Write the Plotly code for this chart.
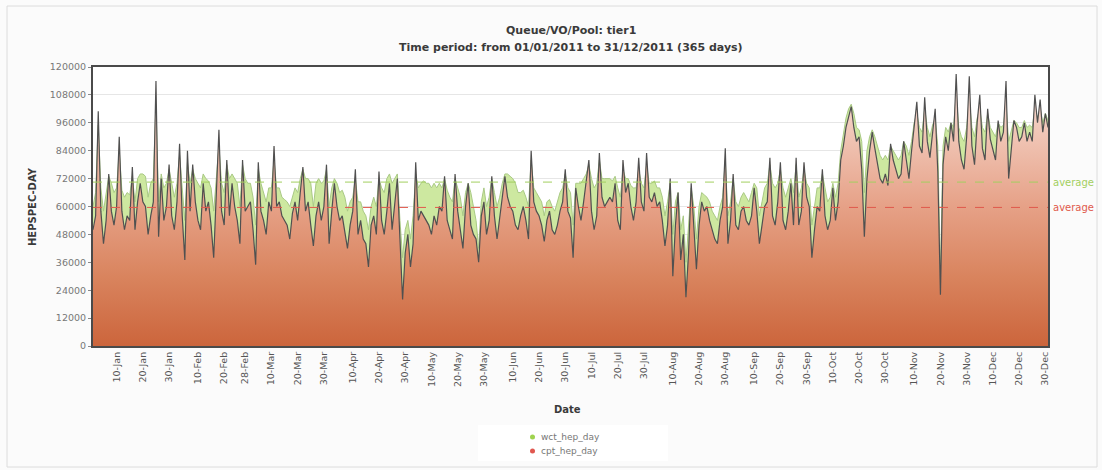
import pandas as pd
import plotly.graph_objects as go

# Daily accounting for 2011, HEPSPEC-day units
dates = pd.date_range("2011-01-01", "2011-12-31", freq="D")

# Wall-clock time normalised to HEPSPEC06 (one value per day)
wct_hep_day = [
    # Jan
    60000, 66000, 95000, 68000, 58000, 66000, 73000, 70000, 66000, 68000,
    84000, 67000, 64000, 66000, 65000, 73000, 62000, 72000, 74000, 74000,
    73000, 64000, 70000, 72000, 104000, 62000, 74000, 68000, 70000, 76000, 70000,
    # Feb
    64000, 70000, 82000, 68000, 54000, 79000, 70000, 76000, 72000, 70000,
    68000, 74000, 72000, 71000, 68000, 58000, 72000, 86000, 70000, 66000,
    78000, 72000, 74000, 72000, 70000, 60000, 78000, 72000,
    # Mar
    70000, 70000, 64000, 52000, 76000, 70000, 66000, 62000, 68000, 68000,
    80000, 68000, 68000, 64000, 63000, 62000, 60000, 64000, 68000, 66000,
    72000, 76000, 72000, 72000, 70000, 60000, 70000, 72000, 70000, 71000, 76000,
    # Apr
    60000, 68000, 72000, 70000, 66000, 67000, 64000, 58000, 62000, 64000,
    72000, 62000, 62000, 58000, 56000, 50000, 60000, 64000, 60000, 72000,
    68000, 66000, 72000, 74000, 70000, 72000, 74000, 54000, 38000, 50000,
    # May
    54000, 46000, 56000, 74000, 68000, 70000, 71000, 70000, 70000, 68000,
    70000, 68000, 70000, 68000, 72000, 67000, 64000, 62000, 72000, 68000,
    64000, 56000, 66000, 70000, 66000, 60000, 54000, 42000, 62000, 68000, 60000,
    # Jun
    64000, 72000, 66000, 60000, 64000, 70000, 74000, 74000, 73000, 72000,
    70000, 66000, 66000, 67000, 64000, 60000, 80000, 68000, 66000, 64000,
    62000, 56000, 62000, 63000, 60000, 58000, 62000, 66000, 68000, 74000,
    # Jul
    68000, 66000, 52000, 70000, 70000, 70000, 72000, 74000, 78000, 72000,
    68000, 70000, 80000, 72000, 72000, 72000, 72000, 71000, 73000, 68000,
    64000, 76000, 72000, 72000, 69000, 68000, 68000, 76000, 70000, 68000, 78000,
    # Aug
    70000, 70000, 71000, 68000, 68000, 64000, 56000, 62000, 70000, 48000,
    62000, 66000, 50000, 56000, 36000, 52000, 68000, 60000, 46000, 60000,
    66000, 65000, 64000, 62000, 58000, 56000, 54000, 60000, 64000, 80000, 56000,
    # Sep
    62000, 72000, 62000, 60000, 64000, 66000, 64000, 62000, 66000, 70000,
    68000, 56000, 62000, 68000, 70000, 78000, 70000, 68000, 70000, 76000,
    68000, 64000, 68000, 72000, 66000, 78000, 64000, 68000, 76000, 70000,
    # Oct
    68000, 52000, 60000, 68000, 68000, 74000, 68000, 62000, 64000, 70000,
    64000, 70000, 84000, 92000, 98000, 102000, 104000, 100000, 94000, 93000,
    88000, 66000, 84000, 90000, 93000, 90000, 86000, 82000, 80000, 82000, 80000,
    # Nov
    86000, 84000, 82000, 80000, 82000, 88000, 86000, 82000, 88000, 96000,
    100000, 94000, 92000, 102000, 94000, 90000, 95000, 98000, 86000, 30000,
    86000, 94000, 92000, 96000, 94000, 108000, 94000, 90000, 88000, 94000,
    # Dec
    106000, 94000, 90000, 98000, 102000, 94000, 92000, 100000, 94000, 92000,
    90000, 96000, 94000, 95000, 104000, 88000, 92000, 97000, 96000, 94000,
    94000, 97000, 94000, 95000, 94000, 102000, 98000, 102000, 96000, 100000, 97000,
]

# CPU time normalised to HEPSPEC06 (one value per day)
cpt_hep_day = [
    # Jan
    50000, 56000, 101000, 58000, 44000, 54000, 74000, 58000, 52000, 60000,
    90000, 58000, 50000, 56000, 54000, 77000, 50000, 62000, 70000, 62000,
    60000, 48000, 56000, 62000, 114000, 47000, 72000, 54000, 60000, 78000, 56000,
    # Feb
    50000, 62000, 87000, 56000, 37000, 84000, 58000, 78000, 62000, 54000,
    50000, 70000, 58000, 62000, 52000, 38000, 66000, 93000, 58000, 52000,
    80000, 56000, 70000, 60000, 54000, 44000, 80000, 58000,
    # Mar
    60000, 62000, 50000, 35000, 79000, 58000, 54000, 48000, 62000, 58000,
    86000, 60000, 62000, 56000, 54000, 52000, 46000, 57000, 62000, 54000,
    66000, 77000, 58000, 62000, 52000, 43000, 56000, 62000, 54000, 60000, 78000,
    # Apr
    44000, 58000, 70000, 60000, 54000, 56000, 48000, 42000, 52000, 58000,
    76000, 48000, 54000, 46000, 44000, 34000, 52000, 56000, 48000, 75000,
    54000, 48000, 58000, 70000, 50000, 62000, 72000, 46000, 20000, 40000,
    # May
    48000, 34000, 44000, 79000, 54000, 58000, 56000, 54000, 52000, 48000,
    56000, 52000, 60000, 58000, 73000, 54000, 50000, 46000, 74000, 58000,
    50000, 42000, 60000, 70000, 52000, 48000, 46000, 36000, 56000, 62000, 48000,
    # Jun
    54000, 73000, 56000, 46000, 54000, 64000, 73000, 64000, 60000, 58000,
    52000, 50000, 56000, 60000, 54000, 46000, 84000, 62000, 58000, 56000,
    52000, 45000, 54000, 58000, 50000, 48000, 52000, 58000, 62000, 76000,
    # Jul
    58000, 55000, 38000, 68000, 60000, 54000, 62000, 70000, 80000, 58000,
    50000, 56000, 83000, 64000, 60000, 62000, 64000, 62000, 70000, 54000,
    50000, 80000, 66000, 70000, 60000, 54000, 62000, 81000, 62000, 58000, 83000,
    # Aug
    64000, 62000, 66000, 60000, 62000, 54000, 43000, 52000, 72000, 30000,
    52000, 66000, 37000, 48000, 21000, 40000, 70000, 50000, 33000, 52000,
    62000, 58000, 60000, 54000, 50000, 46000, 44000, 54000, 60000, 85000, 44000,
    # Sep
    54000, 74000, 52000, 50000, 58000, 60000, 54000, 52000, 56000, 68000,
    58000, 44000, 52000, 60000, 62000, 81000, 56000, 52000, 62000, 79000,
    54000, 50000, 58000, 70000, 52000, 81000, 52000, 58000, 79000, 64000,
    # Oct
    60000, 38000, 50000, 60000, 58000, 76000, 56000, 50000, 54000, 68000,
    54000, 62000, 80000, 86000, 94000, 98000, 103000, 94000, 88000, 90000,
    76000, 47000, 72000, 84000, 92000, 85000, 78000, 72000, 70000, 74000, 69000,
    # Nov
    87000, 80000, 76000, 72000, 74000, 88000, 80000, 72000, 84000, 95000,
    105000, 86000, 83000, 107000, 88000, 81000, 92000, 102000, 75000, 22000,
    78000, 90000, 84000, 96000, 88000, 117000, 88000, 80000, 76000, 90000,
    # Dec
    116000, 86000, 78000, 96000, 108000, 85000, 80000, 102000, 89000, 84000,
    80000, 97000, 88000, 92000, 114000, 72000, 86000, 97000, 94000, 88000,
    90000, 96000, 88000, 92000, 88000, 108000, 96000, 106000, 92000, 100000, 94000,
]

# Average levels reported by the accounting portal
avg_wct = 70500
avg_cpt = 59600

# Date ticks: every 10th day of each month (28th for February)
tick_dates = [
    "2011-01-10", "2011-01-20", "2011-01-30", "2011-02-10", "2011-02-20", "2011-02-28",
    "2011-03-10", "2011-03-20", "2011-03-30", "2011-04-10", "2011-04-20", "2011-04-30",
    "2011-05-10", "2011-05-20", "2011-05-30", "2011-06-10", "2011-06-20", "2011-06-30",
    "2011-07-10", "2011-07-20", "2011-07-30", "2011-08-10", "2011-08-20", "2011-08-30",
    "2011-09-10", "2011-09-20", "2011-09-30", "2011-10-10", "2011-10-20", "2011-10-30",
    "2011-11-10", "2011-11-20", "2011-11-30", "2011-12-10", "2011-12-20", "2011-12-30",
]
tick_text = [pd.Timestamp(d).strftime("%d-%b") for d in tick_dates]
y_ticks = [0, 12000, 24000, 36000, 48000, 60000, 72000, 84000, 96000, 108000, 120000]

series_names = ["wct_hep_day", "cpt_hep_day"]
series_colors = ["#9fd34f", "#e0574f"]

FONT = "DejaVu Sans"
GREEN_FILL = "#cde8a0"
GREEN_LINE = "#a9c985"
GREEN_TXT = "#a3cf5f"
RED_TXT = "#e0594c"

# Plot area in pixels: x 93..1048, y 67..346
W, H = 1102, 470
L, R, T, B = 93, 1048, 67, 346


def px_x(px):
    return (px - L) / (R - L)


def px_y(py):
    return (B - py) / (B - T)


fig = go.Figure()

fig.add_trace(go.Scatter(
    x=dates, y=wct_hep_day, name=series_names[0], mode="lines",
    line=dict(color=GREEN_LINE, width=1),
    fill="tozeroy", fillcolor=GREEN_FILL, showlegend=False,
))

fig.add_trace(go.Scatter(
    x=dates, y=cpt_hep_day, name=series_names[1], mode="lines",
    line=dict(color="#505050", width=1.2),
    fill="tozeroy",
    fillgradient=dict(
        type="vertical", start=0, stop=120000,
        colorscale=[[0, "#cc653c"], [0.25, "#d9845e"], [0.5, "#e6a187"],
                    [0.8, "#f2cbbd"], [1, "#f8e2da"]],
    ),
    showlegend=False,
))

# Average lines with labels outside the right edge
for val, col in [(avg_wct, GREEN_TXT), (avg_cpt, RED_TXT)]:
    fig.add_shape(type="line", xref="paper", x0=0, x1=1, yref="y", y0=val, y1=val,
                  line=dict(color=col, width=1, dash="dash"), layer="above")
    fig.add_annotation(xref="paper", x=px_x(1051), yref="y", y=val, text="average",
                       showarrow=False, xanchor="left", yanchor="middle",
                       font=dict(family=FONT, size=10, color=col))

# Outer frame of the chart image
fig.add_shape(type="rect", xref="paper", yref="paper",
              x0=px_x(7), x1=px_x(1097), y0=px_y(467), y1=px_y(6),
              line=dict(color="#dcdcdc", width=1), fillcolor="rgba(0,0,0,0)", layer="below")

# Compact legend box below the axis
fig.add_shape(type="rect", xref="paper", yref="paper",
              x0=px_x(478), x1=px_x(668), y0=px_y(461), y1=px_y(425),
              line=dict(width=0), fillcolor="#ffffff", layer="below")
for i, (name, col) in enumerate(zip(series_names, series_colors)):
    cy = 437 + 14 * i
    fig.add_shape(type="circle", xref="paper", yref="paper",
                  x0=px_x(530), x1=px_x(535), y0=px_y(cy + 2.5), y1=px_y(cy - 2.5),
                  line=dict(width=0), fillcolor=col)
    fig.add_annotation(xref="paper", yref="paper", x=px_x(539), y=px_y(cy),
                       text=name, showarrow=False, xanchor="left", yanchor="middle",
                       font=dict(family=FONT, size=9, color="#777777"))

# Titles
fig.add_annotation(xref="paper", yref="paper", x=0.5, y=px_y(31),
                   text="<b>Queue/VO/Pool: tier1</b>", showarrow=False,
                   yanchor="middle", font=dict(family=FONT, size=11, color="#3a3a3a"))
fig.add_annotation(xref="paper", yref="paper", x=0.5, y=px_y(47),
                   text="<b>Time period: from 01/01/2011 to 31/12/2011 (365 days)</b>",
                   showarrow=False, yanchor="middle",
                   font=dict(family=FONT, size=11, color="#3a3a3a"))
fig.add_annotation(xref="paper", yref="paper", x=px_x(32), y=px_y(206),
                   text="<b>HEPSPEC-DAY</b>", showarrow=False, textangle=-90,
                   xanchor="center", yanchor="middle",
                   font=dict(family=FONT, size=10, color="#3a3a3a"))
fig.add_annotation(xref="paper", yref="paper", x=px_x(567), y=px_y(409),
                   text="<b>Date</b>", showarrow=False, yanchor="middle",
                   font=dict(family=FONT, size=10, color="#3a3a3a"))

fig.update_layout(
    width=W, height=H,
    margin=dict(l=L, r=W - R, t=T, b=H - B, pad=0, autoexpand=False),
    paper_bgcolor="#fbfbfb",
    plot_bgcolor="#ffffff",
    font=dict(family=FONT, size=10, color="#666666"),
    showlegend=False,
)

fig.update_xaxes(
    range=[dates[0], dates[-1]], automargin=False,
    tickvals=tick_dates, ticktext=tick_text, tickangle=-90,
    tickfont=dict(family=FONT, size=9.5, color="#555555"),
    showgrid=False, showline=True, linecolor="#4a4a4a", linewidth=2, mirror=True,
    ticks="", zeroline=False,
)
fig.update_yaxes(
    range=[0, 120000], automargin=False, tickvals=y_ticks,
    ticktext=[str(v) for v in y_ticks],
    tickfont=dict(family=FONT, size=9.5, color="#777777"),
    showgrid=True, gridcolor="#e6e6e6", gridwidth=1,
    showline=True, linecolor="#4a4a4a", linewidth=2, mirror=True,
    ticks="outside", ticklen=3, tickcolor="#888888", zeroline=False,
)

fig.write_html("out.html")
